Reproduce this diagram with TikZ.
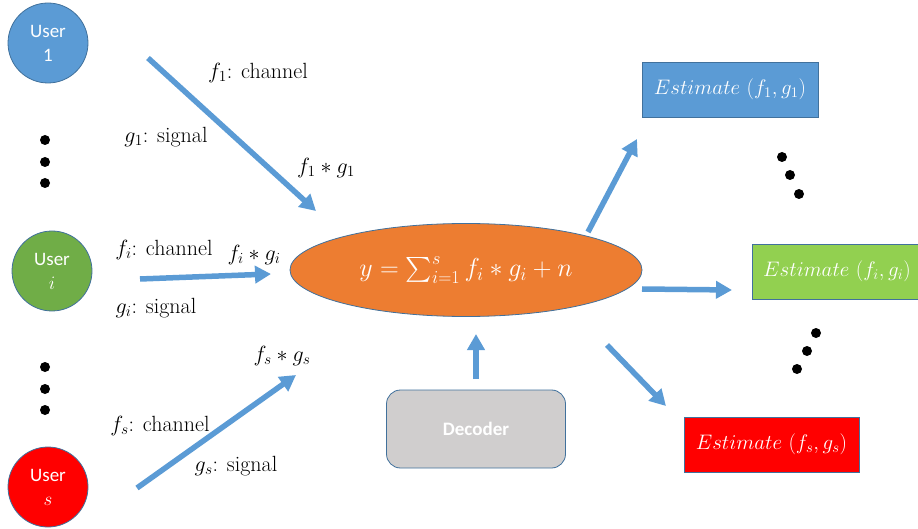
\RequirePackage{fix-cm}
\documentclass[tikz,border=0pt]{standalone}
\usepackage{exscale}
\usepackage{fontspec}
\newfontfamily\carlito{Carlito}
\usetikzlibrary{arrows.meta,shapes.geometric}
\definecolor{ublue}{HTML}{5B9BD5}
\definecolor{bord}{HTML}{41719C}
\definecolor{ugreen}{HTML}{70AD47}
\definecolor{lgreen}{HTML}{92D050}
\definecolor{uorange}{HTML}{ED7D31}
\definecolor{ugray}{HTML}{D0CECE}
\tikzset{
  user/.style={circle, draw=bord, line width=0.8pt, minimum size=80pt, inner sep=0pt, text=white, align=center, font=\carlito\fontsize{19}{24}\selectfont},
  estbox/.style={draw=bord, line width=0.8pt, minimum width=176pt, minimum height=55pt, inner sep=0pt, text=white, font=\fontsize{21}{24}\selectfont},
  barrow/.style={draw=ublue, line width=5.5pt, -{Triangle[length=16pt,width=17pt]}},
  lbl/.style={font=\fontsize{22}{26}\selectfont, inner sep=1pt},
  bigdot/.style={circle, fill=black, minimum size=10pt, inner sep=0pt},
}
\begin{document}
\begin{tikzpicture}[x=1pt,y=-1pt]
\useasboundingbox (0,0) rectangle (918,529);
% users
\node[user, fill=ublue] (u1) at (48,43) {User\\1};
\node[user, fill=ugreen] (ui) at (52,271) {User\\$i$};
\node[user, fill=red] (us) at (48,487) {User\\$s$};
% dots left
\node[bigdot] (d1) at (45,140) {};
\node[bigdot] (d2) at (45,162) {};
\node[bigdot] (d3) at (45,183) {};
\node[bigdot] (d4) at (45,367) {};
\node[bigdot] (d5) at (45,389) {};
\node[bigdot] (d6) at (45,410) {};
% ellipse
\node[ellipse, draw=bord, line width=0.8pt, fill=uorange, minimum width=352pt, minimum height=93pt, inner sep=0pt, text=white, font=\fontsize{26}{30}\selectfont] (sum) at (466,270) {$y=\textstyle\sum_{i=1}^{s} f_i\ast g_i+n$};
% decoder
\node[draw=bord, line width=0.8pt, fill=ugray, rounded corners=14pt, minimum width=179pt, minimum height=78pt, inner sep=0pt, text=white, font=\carlito\bfseries\fontsize{19}{22}\selectfont] (dec) at (476,429) {Decoder};
% estimates
\node[estbox, fill=ublue] (e1) at (730,89.5) {$Estimate\ (f_1,g_1)$};
\node[estbox, fill=lgreen, minimum width=170pt] (ei) at (837,271.5) {$Estimate\ (f_i,g_i)$};
\node[estbox, fill=red, minimum width=175pt] (es) at (771.5,444.5) {$Estimate\ (f_s,g_s)$};
% dots right
\node[bigdot] (r1) at (782,157) {};
\node[bigdot] (r2) at (790,175) {};
\node[bigdot] (r3) at (799,194) {};
\node[bigdot] (r4) at (816,333) {};
\node[bigdot] (r5) at (807,351) {};
\node[bigdot] (r6) at (797,369) {};
% arrow endpoints
\coordinate (a1s) at (148,58);
\coordinate (a1e) at (316,211);
\coordinate (ais) at (140,279);
\coordinate (aie) at (271,274);
\coordinate (ass) at (137,488);
\coordinate (ase) at (296,375);
\coordinate (ads) at (476,379);
\coordinate (ade) at (476,334);
\coordinate (b1s) at (588,232);
\coordinate (b1e) at (637,139);
\coordinate (bis) at (642,289);
\coordinate (bie) at (732,290);
\coordinate (bss) at (607,345);
\coordinate (bse) at (666,406);
\draw[barrow] (a1s) -- (a1e);
\draw[barrow] (ais) -- (aie);
\draw[barrow] (ass) -- (ase);
\draw[barrow] (ads) -- (ade);
\draw[barrow] (b1s) -- (b1e);
\draw[barrow] (bis) -- (bie);
\draw[barrow] (bss) -- (bse);
% labels
\node[lbl] (l1) at (258,73) {$f_1$: channel};
\node[lbl] (l2) at (166,137) {$g_1$: signal};
\node[lbl] (l3) at (326,168) {$f_1\ast g_1$};
\node[lbl] (l4) at (164,250) {$f_i$: channel};
\node[lbl] (l5) at (254,255) {$f_i\ast g_i$};
\node[lbl] (l6) at (156,308) {$g_i$: signal};
\node[lbl] (l7) at (282,356) {$f_s\ast g_s$};
\node[lbl] (l8) at (160,426) {$f_s$: channel};
\node[lbl] (l9) at (236,466) {$g_s$: signal};
\end{tikzpicture}
\end{document}
